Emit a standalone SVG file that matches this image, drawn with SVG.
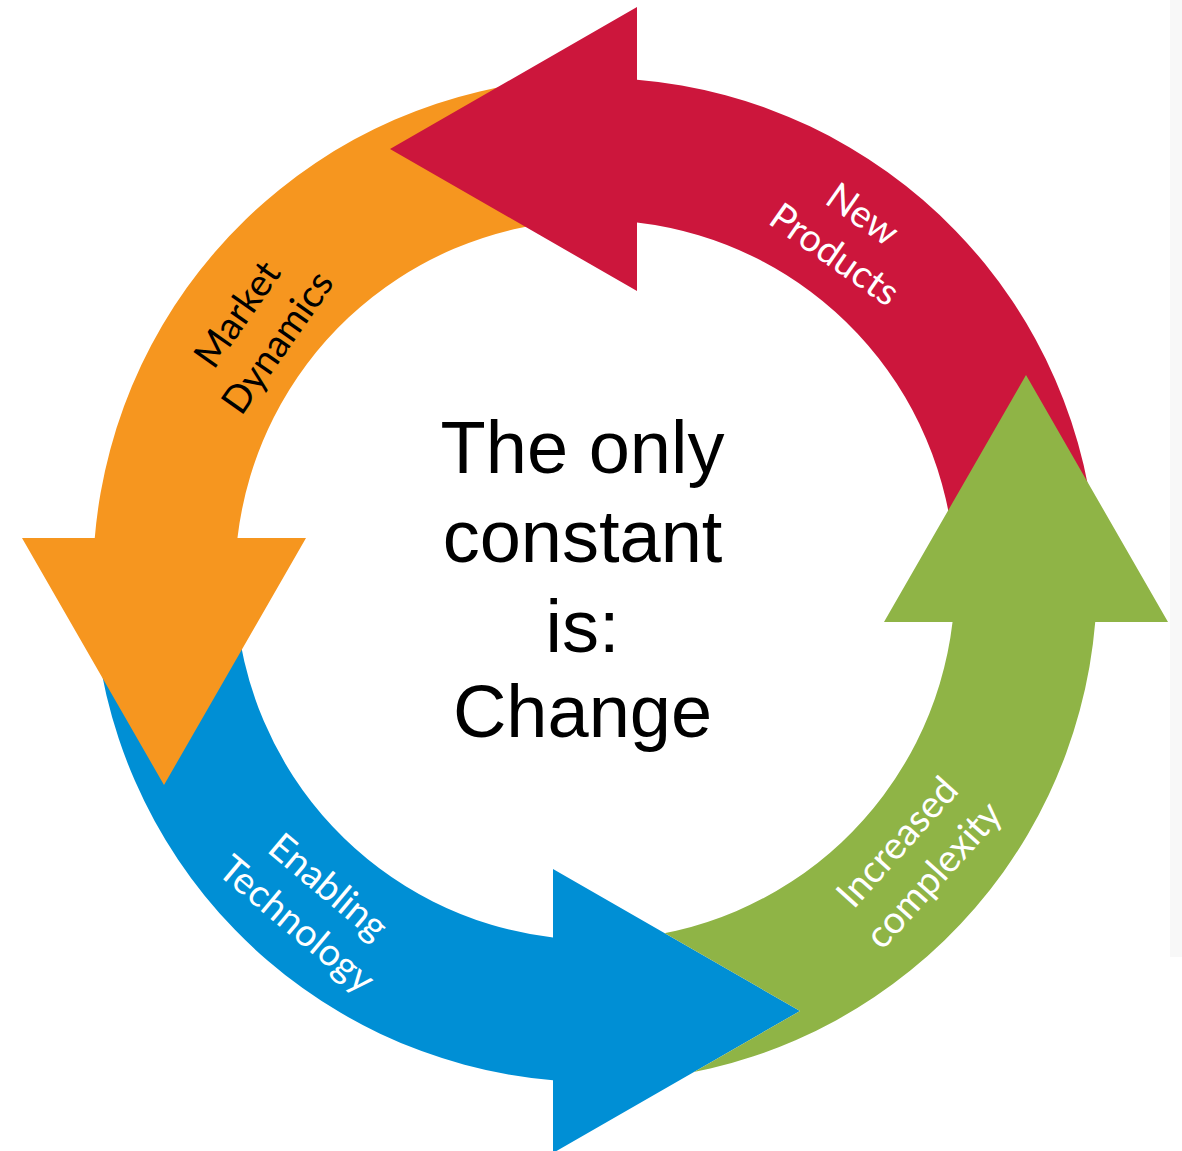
<svg xmlns="http://www.w3.org/2000/svg" width="1182" height="1151" viewBox="0 0 1182 1151">
  <style>
    .label { font-family: Lato, "Open Sans", "Liberation Sans", sans-serif; font-size: 38px; text-anchor: middle; }
    .light { fill: #ffffff; }
    .dark { fill: #000000; }
    .center { font-family: "Liberation Sans", Arial, sans-serif; font-size: 74px; text-anchor: middle; fill: #000000; }
  </style>
  <defs>
    <!-- One curved arrow of the cycle, drawn around the ring centre (0,0):
         band between r=360 and r=502, head pointing anticlockwise at the top. -->
    <path id="cycle-arrow" d="M42,-500.24 A502,502 0 0 1 501.31,-26.27 L359.51,-18.84 A360,360 0 0 0 42,-357.54 L42,-289 L-205,-431 L42,-573 Z"/>
    <!-- keeps the green tail underneath the blue head -->
    <clipPath id="under-blue-head" clipPathUnits="userSpaceOnUse">
      <path clip-rule="evenodd" d="M0,0 H1182 V1151 H0 Z M553,869 L800,1011 L553,1153 Z"/>
    </clipPath>
  </defs>

  <rect width="1182" height="1151" fill="#ffffff"/>
  <rect x="1170" y="0" width="12" height="957" fill="#f8f8f8"/>

  <g id="node-enabling-technology">
    <use href="#cycle-arrow" transform="translate(595 580) rotate(180)" fill="#008fd5"/>
    <text class="label light" transform="translate(313 905) rotate(40)"><tspan x="0" y="-11">Enabling</tspan><tspan x="0" y="38">Technology</tspan></text>
  </g>

  <g id="node-market-dynamics">
    <use href="#cycle-arrow" transform="translate(595 580) rotate(-90)" fill="#f6961f"/>
    <text class="label dark" transform="translate(257 328) rotate(-55)"><tspan x="0" y="-11">Market</tspan><tspan x="0" y="38">Dynamics</tspan></text>
  </g>

  <g id="node-new-products">
    <use href="#cycle-arrow" transform="translate(595 580)" fill="#cc163c"/>
    <text class="label light" transform="translate(849 234) rotate(35)"><tspan x="0" y="-11">New</tspan><tspan x="0" y="38">Products</tspan></text>
  </g>

  <g id="node-increased-complexity" clip-path="url(#under-blue-head)">
    <use href="#cycle-arrow" transform="translate(595 580) rotate(90)" fill="#8fb446"/>
    <text class="label light" transform="translate(915 858) rotate(-48)"><tspan x="0" y="-11">Increased</tspan><tspan x="0" y="38">complexity</tspan></text>
  </g>

  <g id="centre-text">
    <text class="center" x="582.5" y="473">The only</text>
    <text class="center" x="582.5" y="562">constant</text>
    <text class="center" x="582.5" y="652">is:</text>
    <text class="center" x="582.5" y="737">Change</text>
  </g>
</svg>
